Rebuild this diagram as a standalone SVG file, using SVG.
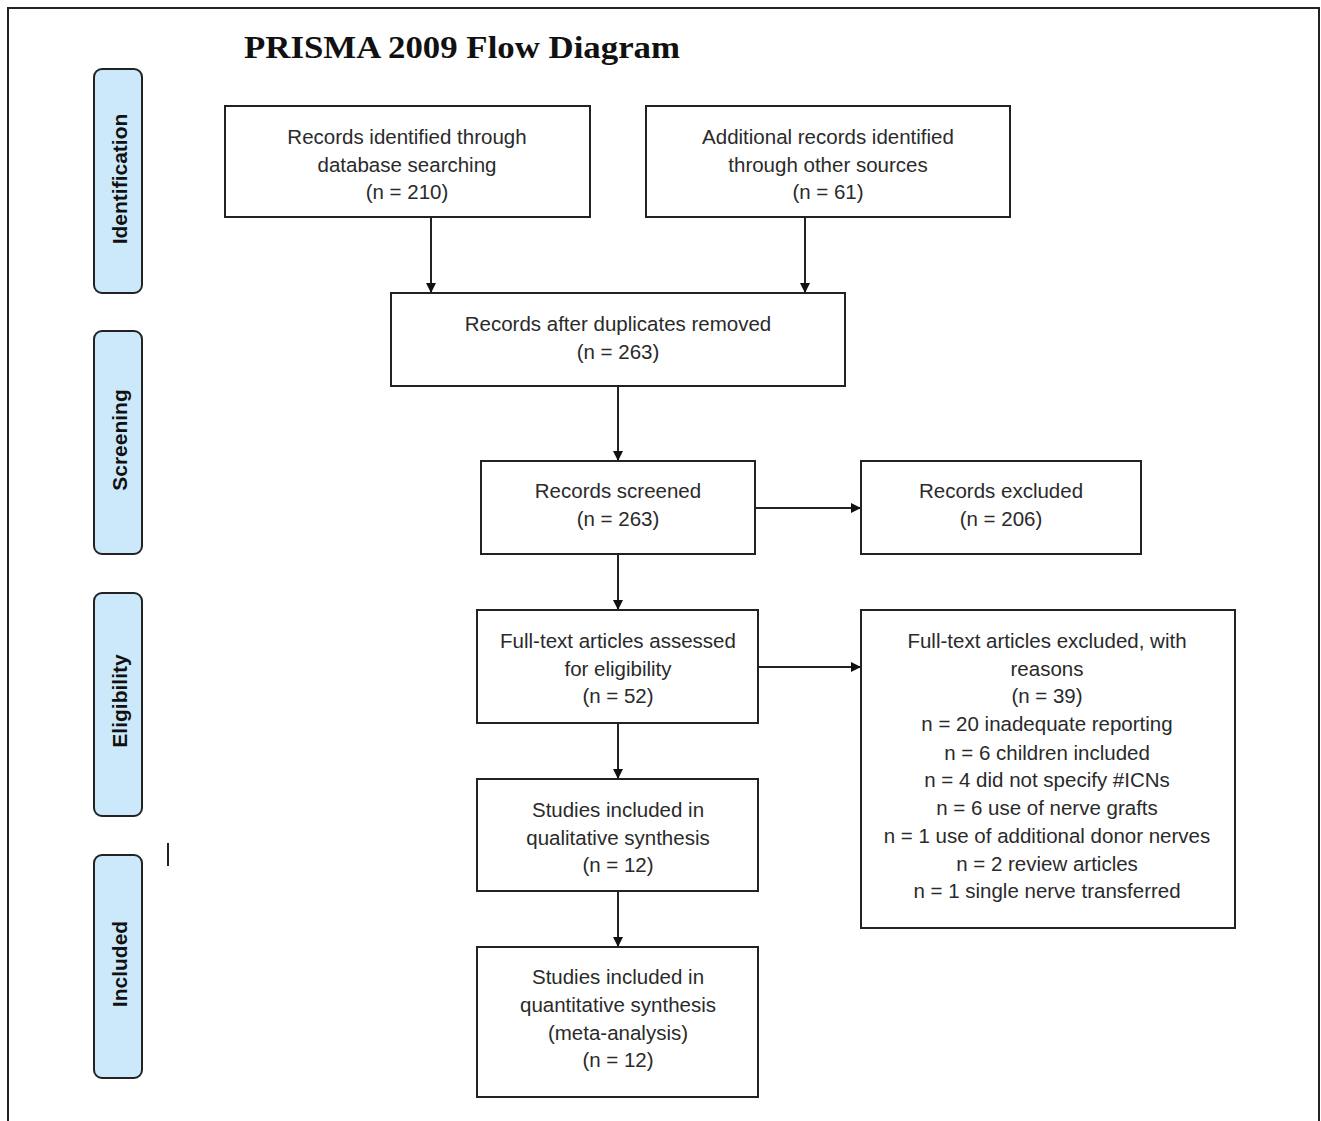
<svg xmlns="http://www.w3.org/2000/svg" width="1321" height="1121" viewBox="0 0 1321 1121">
<style>
.box{fill:#fff;stroke:#222;stroke-width:2}
.side{fill:#cce9fb;stroke:#222;stroke-width:2}
.t{font-family:"Liberation Sans",Arial,sans-serif;font-size:20.5px;fill:#2a2a2a;text-anchor:middle}
.s{font-family:"Liberation Sans",Arial,sans-serif;font-size:21px;font-weight:bold;fill:#111;text-anchor:middle}
.c{stroke:#222;stroke-width:2;fill:none;marker-end:url(#ah)}
</style>
<defs>
<marker id="ah" markerWidth="10" markerHeight="10" refX="9" refY="5" orient="auto" markerUnits="userSpaceOnUse">
<path d="M0,0 L10,5 L0,10 z" fill="#111"/>
</marker>
</defs>
<rect width="1321" height="1121" fill="#fff"/>
<path d="M8,1121 V8 H1319 V1121" fill="none" stroke="#222" stroke-width="2"/>
<text x="244" y="58" font-family="Liberation Serif,serif" font-weight="bold" font-size="31" textLength="436" lengthAdjust="spacingAndGlyphs" fill="#111">PRISMA 2009 Flow Diagram</text>
<line x1="168" y1="843" x2="168" y2="866" stroke="#222" stroke-width="2"/>
<g id="side-identification"><rect class="side" x="94" y="69" width="48" height="224" rx="8"/><text class="s" transform="translate(127,179) rotate(-90)">Identification</text></g>
<g id="side-screening"><rect class="side" x="94" y="331" width="48" height="223" rx="8"/><text class="s" transform="translate(127,440) rotate(-90)">Screening</text></g>
<g id="side-eligibility"><rect class="side" x="94" y="593" width="48" height="223" rx="8"/><text class="s" transform="translate(127,701) rotate(-90)">Eligibility</text></g>
<g id="side-included"><rect class="side" x="94" y="855" width="48" height="223" rx="8"/><text class="s" transform="translate(127,964) rotate(-90)">Included</text></g>
<g id="connectors">
<line class="c" x1="431" y1="217" x2="431" y2="292"/>
<line class="c" x1="805" y1="217" x2="805" y2="292"/>
<line class="c" x1="618" y1="386" x2="618" y2="460"/>
<line class="c" x1="755" y1="508" x2="860" y2="508"/>
<line class="c" x1="618" y1="554" x2="618" y2="609"/>
<line class="c" x1="758" y1="667" x2="860" y2="667"/>
<line class="c" x1="618" y1="723" x2="618" y2="778"/>
<line class="c" x1="618" y1="891" x2="618" y2="946"/>
</g>
<g id="n1"><rect class="box" x="225" y="106" width="365" height="111"/>
<text class="t" x="407" y="144">Records identified through</text><text class="t" x="407" y="172">database searching</text><text class="t" x="407" y="199">(n = 210)</text></g>
<g id="n2"><rect class="box" x="646" y="106" width="364" height="111"/>
<text class="t" x="828" y="144">Additional records identified</text><text class="t" x="828" y="172">through other sources</text><text class="t" x="828" y="199">(n = 61)</text></g>
<g id="n3"><rect class="box" x="391" y="293" width="454" height="93"/>
<text class="t" x="618" y="331">Records after duplicates removed</text><text class="t" x="618" y="359">(n = 263)</text></g>
<g id="n4"><rect class="box" x="481" y="461" width="274" height="93"/>
<text class="t" x="618" y="498">Records screened</text><text class="t" x="618" y="526">(n = 263)</text></g>
<g id="n5"><rect class="box" x="861" y="461" width="280" height="93"/>
<text class="t" x="1001" y="498">Records excluded</text><text class="t" x="1001" y="526">(n = 206)</text></g>
<g id="n6"><rect class="box" x="477" y="610" width="281" height="113"/>
<text class="t" x="618" y="648">Full-text articles assessed</text><text class="t" x="618" y="676">for eligibility</text><text class="t" x="618" y="703">(n = 52)</text></g>
<g id="n7"><rect class="box" x="861" y="610" width="374" height="318"/>
<text class="t" x="1047" y="648">Full-text articles excluded, with</text>
<text class="t" x="1047" y="676">reasons</text>
<text class="t" x="1047" y="703">(n = 39)</text>
<text class="t" x="1047" y="731">n = 20 inadequate reporting</text>
<text class="t" x="1047" y="760">n = 6 children included</text>
<text class="t" x="1047" y="787">n = 4 did not specify #ICNs</text>
<text class="t" x="1047" y="815">n = 6 use of nerve grafts</text>
<text class="t" x="1047" y="843">n = 1 use of additional donor nerves</text>
<text class="t" x="1047" y="871">n = 2 review articles</text>
<text class="t" x="1047" y="898">n = 1 single nerve transferred</text></g>
<g id="n8"><rect class="box" x="477" y="779" width="281" height="112"/>
<text class="t" x="618" y="817">Studies included in</text><text class="t" x="618" y="845">qualitative synthesis</text><text class="t" x="618" y="872">(n = 12)</text></g>
<g id="n9"><rect class="box" x="477" y="947" width="281" height="150"/>
<text class="t" x="618" y="984">Studies included in</text><text class="t" x="618" y="1012">quantitative synthesis</text><text class="t" x="618" y="1040">(meta-analysis)</text><text class="t" x="618" y="1067">(n = 12)</text></g>
</svg>
